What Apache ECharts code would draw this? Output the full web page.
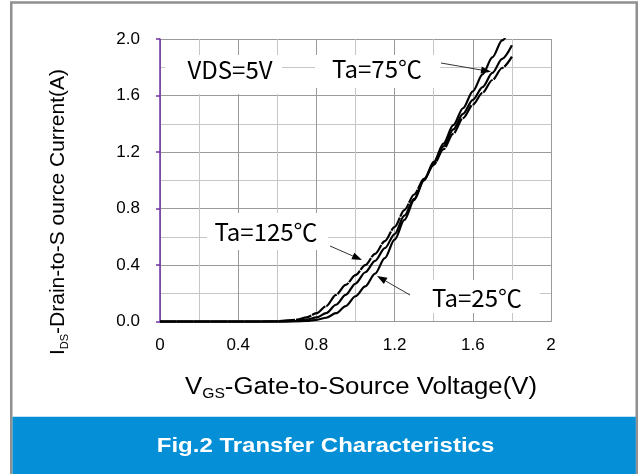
<!DOCTYPE html>
<html>
<head>
<meta charset="utf-8">
<script src="https://cdn.jsdelivr.net/npm/echarts@6/dist/echarts.min.js"></script>
<style>
html,body{margin:0;padding:0;background:#fff;}
#chart{width:640px;height:474px;}
</style>
</head>
<body>
<div id="chart"></div>
<script>
// ---- data ----
const vgs = [0, 0.2, 0.4, 0.5, 0.6, 0.7, 0.75, 0.8, 0.85, 0.9, 0.95, 1.0, 1.05, 1.1, 1.15, 1.2, 1.25, 1.3, 1.35, 1.4, 1.45, 1.5, 1.55, 1.6, 1.65, 1.7, 1.75, 1.8];
const ids25  = [0, 0, 0, 0, 0, 0.002, 0.006, 0.013, 0.028, 0.06, 0.11, 0.18, 0.25, 0.34, 0.45, 0.58, 0.72, 0.86, 1.00, 1.13, 1.26, 1.39, 1.51, 1.63, 1.75, 1.87, 1.99, 2.10];
const ids75  = [0, 0, 0, 0, 0.001, 0.005, 0.015, 0.03, 0.06, 0.12, 0.19, 0.27, 0.35, 0.43, 0.52, 0.62, 0.75, 0.87, 1.00, 1.12, 1.24, 1.36, 1.47, 1.57, 1.66, 1.76, 1.86, 1.955];
const ids125 = [0, 0, 0, 0.001, 0.004, 0.014, 0.03, 0.06, 0.11, 0.19, 0.26, 0.33, 0.40, 0.48, 0.57, 0.67, 0.79, 0.90, 1.01, 1.11, 1.22, 1.33, 1.44, 1.535, 1.62, 1.71, 1.795, 1.875];
const seriesNames = ['Ta=25℃', 'Ta=75℃', 'Ta=125℃'];
const xTickLabels = ['0', '0.4', '0.8', '1.2', '1.6', '2'];
const yTickLabels = ['0.0', '0.4', '0.8', '1.2', '1.6', '2.0'];
const annotationTexts = ['VDS=5V', 'Ta=75℃', 'Ta=125℃', 'Ta=25℃'];

// ---- build ----
function pairs(xs, ys) { return xs.map((x, i) => [x, ys[i]]); }
const ANNO_FONT = '"Noto Sans CJK SC", "Noto Sans", sans-serif';
const SANS = '"Liberation Sans", Arial, sans-serif';

function arrow(x1, y1, x2, y2) {
  const ang = Math.atan2(y2 - y1, x2 - x1);
  const L = 10, W = 3.6;
  const bx = x2 - L * Math.cos(ang), by = y2 - L * Math.sin(ang);
  const px = -Math.sin(ang) * W, py = Math.cos(ang) * W;
  return [
    { type: 'line', z: 110, shape: { x1: x1, y1: y1, x2: bx, y2: by }, style: { stroke: '#333', lineWidth: 1 } },
    { type: 'polygon', z: 110, shape: { points: [[x2, y2], [bx + px, by + py], [bx - px, by - py]] }, style: { fill: '#000' } }
  ];
}
function box(x, y, w, h) {
  return { type: 'rect', z: 100, shape: { x: x, y: y, width: w, height: h }, style: { fill: '#fff' } };
}
function annText(t, x, y) {
  return { type: 'text', z: 105, x: x, y: y, style: { text: t, fill: '#000', fontSize: 24, fontFamily: ANNO_FONT, align: 'center', verticalAlign: 'middle' } };
}

const graphics = [
  // frame and caption band
  { type: 'rect', z: 1, silent: true, shape: { x: 11.25, y: 2.5, width: 625.5, height: 480 }, style: { fill: 'none', stroke: '#909090', lineWidth: 2.5 } },
  { type: 'rect', z: 2, shape: { x: 12.5, y: 416.7, width: 623.3, height: 60 }, style: { fill: '#058fd6' } },
  { type: 'text', z: 3, x: 325.5, y: 446, scaleX: 1.2, style: { text: 'Fig.2 Transfer Characteristics', fill: '#fff', fontSize: 20, fontWeight: 'bold', fontFamily: SANS, align: 'center', verticalAlign: 'middle' } },
  // axis titles
  { type: 'text', z: 3, x: 58, y: 212, rotation: Math.PI / 2,
    style: { text: '{m|I}{s|DS}{m|-Drain-to-S ource Current(A)}', align: 'center', verticalAlign: 'middle',
      rich: { m: { fontSize: 21, fontFamily: SANS, fill: '#000', lineHeight: 24 },
              s: { fontSize: 11, fontFamily: SANS, fill: '#000', verticalAlign: 'bottom', lineHeight: 24 } } } },
  { type: 'text', z: 3, x: 361, y: 388, scaleX: 1.12,
    style: { text: '{m|V}{s|GS}{m|-Gate-to-Source Voltage(V)}', align: 'center', verticalAlign: 'middle',
      rich: { m: { fontSize: 23, fontFamily: SANS, fill: '#000', lineHeight: 27 },
              s: { fontSize: 14, fontFamily: SANS, fill: '#000', verticalAlign: 'bottom', lineHeight: 27 } } } },
  // annotation boxes
  box(165, 55, 117, 39), annText(annotationTexts[0], 230, 70),
  box(315, 55, 125, 33), annText(annotationTexts[1], 377, 69),
  box(207, 213, 121, 37), annText(annotationTexts[2], 266, 232),
  box(410, 280, 130, 33), annText(annotationTexts[3], 477, 298)
].concat(arrow(441, 63, 491, 71.7), arrow(330, 246, 362, 260), arrow(410, 295, 377, 276));

const chart = echarts.init(document.getElementById('chart'), null, { renderer: 'canvas' });
chart.setOption({
  animation: false,
  backgroundColor: 'transparent',
  grid: { left: 160, right: 89, top: 39, bottom: 152.3, containLabel: false },
  xAxis: {
    type: 'value', min: 0, max: 2, interval: 0.4,
    axisLine: { show: true, onZero: false, lineStyle: { color: '#999', width: 1 } },
    axisTick: { show: false },
    minorTick: { show: false, splitNumber: 2 },
    splitLine: { show: true, lineStyle: { color: '#9a9a9a', width: 1 } },
    minorSplitLine: { show: true, lineStyle: { color: '#c6c6c6', width: 1 } },
    axisLabel: { margin: 15, fontSize: 17, fontFamily: SANS, color: '#000',
      formatter: v => xTickLabels[Math.round(v / 0.4)] }
  },
  yAxis: {
    type: 'value', min: 0, max: 2, interval: 0.4,
    axisLine: { show: true, lineStyle: { color: '#7030a0', width: 1.5 } },
    axisTick: { show: true, length: 4, lineStyle: { color: '#7030a0', width: 1.5 } },
    minorTick: { show: false, splitNumber: 2 },
    splitLine: { show: true, lineStyle: { color: '#9a9a9a', width: 1 } },
    minorSplitLine: { show: true, lineStyle: { color: '#c6c6c6', width: 1 } },
    axisLabel: { margin: 20, fontSize: 17, fontFamily: SANS, color: '#000',
      formatter: v => yTickLabels[Math.round(v / 0.4)] }
  },
  series: [
    { name: seriesNames[0], type: 'line', data: pairs(vgs, ids25), symbol: 'none', smooth: 0.3, smoothMonotone: 'x',
      lineStyle: { color: '#000', width: 2.2 }, z: 5 },
    { name: seriesNames[1], type: 'line', data: pairs(vgs, ids75), symbol: 'none', smooth: 0.3, smoothMonotone: 'x',
      lineStyle: { color: '#000', width: 2.2 }, z: 5 },
    { name: seriesNames[2], type: 'line', data: pairs(vgs, ids125), symbol: 'none', smooth: 0.3, smoothMonotone: 'x',
      lineStyle: { color: '#000', width: 2.2, type: [16, 1] }, z: 5 }
  ],
  graphic: graphics
});
</script>
</body>
</html>
